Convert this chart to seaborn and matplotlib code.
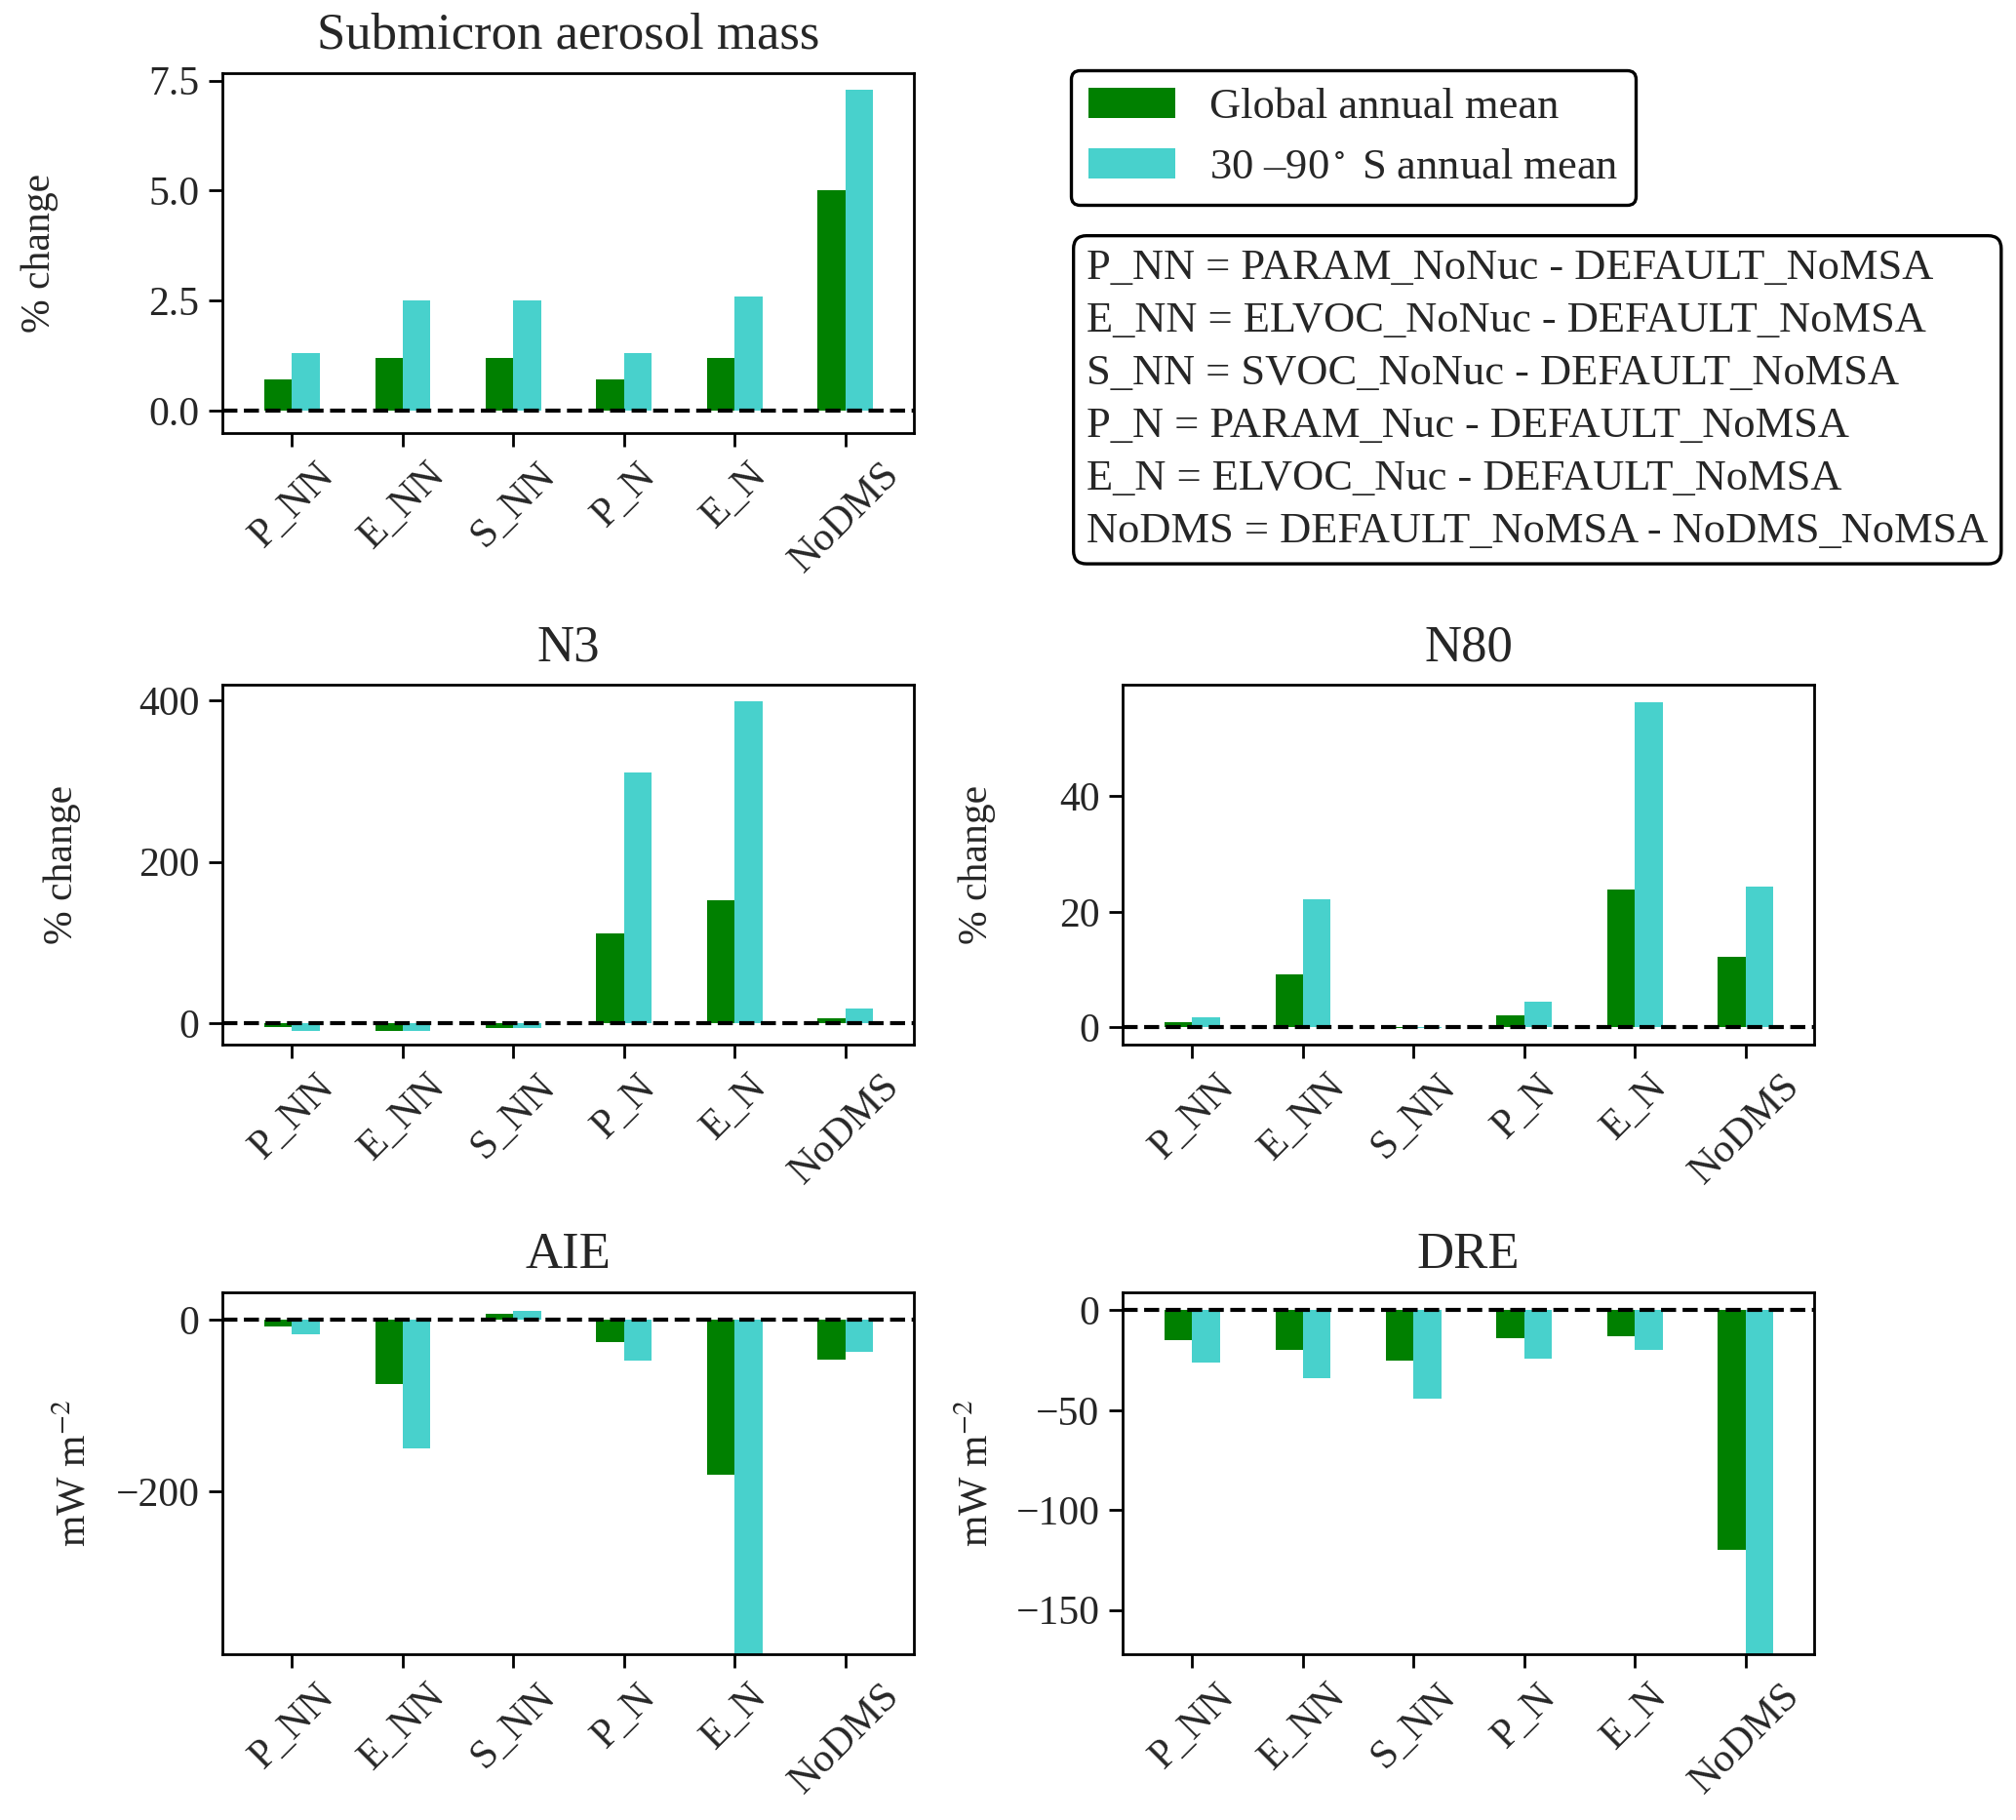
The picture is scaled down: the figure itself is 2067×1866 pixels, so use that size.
import numpy as np
import pandas as pd
import matplotlib
matplotlib.use("Agg")
import matplotlib.pyplot as plt
from matplotlib.patches import Patch
import seaborn as sns

# ---------------- data ----------------
categories = ["P_NN", "E_NN", "S_NN", "P_N", "E_N", "NoDMS"]
series_names = ["Global annual mean", "30 \u201390$^\\circ$ S annual mean"]

submicron_global = [0.7, 1.2, 1.2, 0.7, 1.2, 5.0]
submicron_south = [1.3, 2.5, 2.5, 1.3, 2.6, 7.3]

n3_global = [-4, -9, -6, 112, 153, 7]
n3_south = [-9, -9, -6, 310, 398, 19]

n80_global = [0.8, 9.1, -0.1, 2.1, 23.8, 12.2]
n80_south = [1.7, 22.2, -0.05, 4.4, 56.3, 24.4]

aie_global = [-8, -75, 7, -26, -180, -46]
aie_south = [-17, -150, 10, -48, -450, -37]

dre_global = [-15, -20, -25, -14, -13, -120]
dre_south = [-26, -34, -44, -24, -20, -190]

definitions = [
    "P_NN = PARAM_NoNuc - DEFAULT_NoMSA",
    "E_NN = ELVOC_NoNuc - DEFAULT_NoMSA",
    "S_NN = SVOC_NoNuc - DEFAULT_NoMSA",
    "P_N = PARAM_Nuc - DEFAULT_NoMSA",
    "E_N = ELVOC_Nuc - DEFAULT_NoMSA",
    "NoDMS = DEFAULT_NoMSA - NoDMS_NoMSA",
]

colors = ["green", "mediumturquoise"]

# ---------------- style ----------------
sns.set_style("white")
plt.rcParams["font.family"] = ["Liberation Serif", "DejaVu Serif"]
plt.rcParams["mathtext.fontset"] = "stix"
plt.rcParams["axes.linewidth"] = 1.0
plt.rcParams["axes.edgecolor"] = "black"

fig = plt.figure(figsize=(2067 / 200, 1866 / 200), dpi=200)
W, H = 2067.0, 1866.0


def add_ax(left, top, right, bottom):
    return fig.add_axes([left / W, 1 - bottom / H, (right - left) / W, (bottom - top) / H])


panels = [
    dict(title="Submicron aerosol mass", g=submicron_global, s=submicron_south,
         box=(228, 75, 937, 444), ylim=(-0.51, 7.67), yticks=[0, 2.5, 5.0, 7.5],
         ylabel="% change", lx=-0.237),
    dict(title="N3", g=n3_global, s=n3_south,
         box=(228, 702, 937, 1071), ylim=(-26, 419), yticks=[0, 200, 400],
         ylabel="% change", lx=-0.205),
    dict(title="N80", g=n80_global, s=n80_south,
         box=(1151, 702, 1860, 1071), ylim=(-3.0, 59.3), yticks=[0, 20, 40],
         ylabel="% change", lx=-0.184),
    dict(title="AIE", g=aie_global, s=aie_south,
         box=(228, 1325, 937, 1696), ylim=(-388.6, 31.6), yticks=[-200, 0],
         ylabel="mW m$^{-2}$", lx=-0.185),
    dict(title="DRE", g=dre_global, s=dre_south,
         box=(1151, 1325, 1860, 1696), ylim=(-172.2, 9.0), yticks=[-150, -100, -50, 0],
         ylabel="mW m$^{-2}$", lx=-0.182),
]

for p in panels:
    ax = add_ax(*p["box"])
    df = pd.DataFrame({
        "cat": categories * 2,
        "val": list(p["g"]) + list(p["s"]),
        "series": [series_names[0]] * len(categories) + [series_names[1]] * len(categories),
    })
    sns.barplot(data=df, x="cat", y="val", hue="series", order=categories,
                hue_order=series_names, palette=colors, width=0.5, saturation=1,
                linewidth=0, ax=ax, legend=False, errorbar=None)
    ax.axhline(0, color="black", linestyle="--", linewidth=1.5, zorder=5)
    ax.set_xlim(-0.63, 5.62)
    ax.set_ylim(*p["ylim"])
    ax.set_yticks(p["yticks"])
    ax.set_xlabel("")
    ax.set_ylabel(p["ylabel"], fontsize=15)
    ax.yaxis.set_label_coords(p["lx"], 0.5)
    ax.set_title(p["title"], fontsize=19, pad=9)
    ax.tick_params(axis="both", which="major", labelsize=15, length=5, width=1.0,
                   direction="out", color="black", bottom=True, left=True)
    ax.tick_params(axis="x", rotation=45)
    for lab in ax.get_xticklabels():
        lab.set_ha("center")
    for sp in ax.spines.values():
        sp.set_visible(True)
        sp.set_color("black")
        sp.set_linewidth(1.0)

# ---------------- legends ----------------
handles = [Patch(facecolor=colors[0], edgecolor="none", label=series_names[0]),
           Patch(facecolor=colors[1], edgecolor="none", label=series_names[1])]
leg = fig.legend(handles=handles, loc="upper left",
                 bbox_to_anchor=(1098 / W, 1 - 72 / H), borderaxespad=0,
                 fontsize=16, frameon=True, fancybox=True, framealpha=1,
                 edgecolor="black")
leg.get_frame().set_linewidth(1.2)

fig.text(1114 / W, 1 - 255 / H, "\n".join(definitions), fontsize=16, ha="left",
         va="top", linespacing=1.45,
         bbox=dict(boxstyle="round,pad=0.3", facecolor="white", edgecolor="black",
                   linewidth=1.2))

fig.savefig("out.png", dpi=200, facecolor="white")
